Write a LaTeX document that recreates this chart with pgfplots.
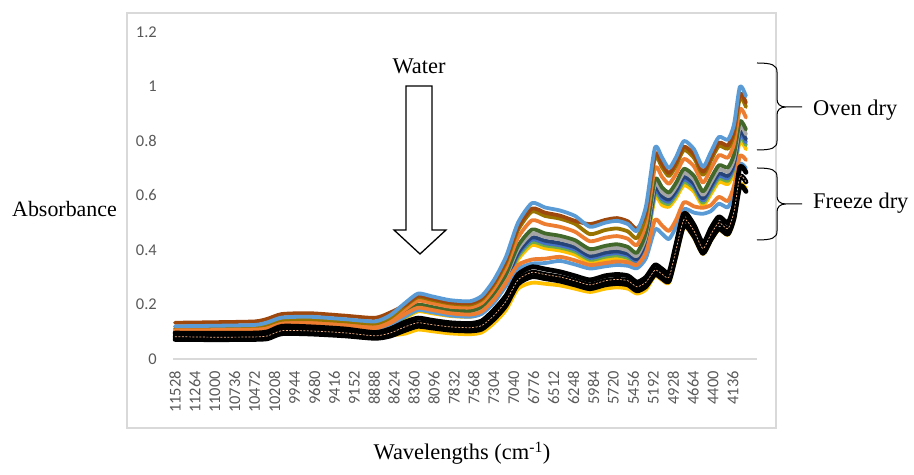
\documentclass[border=0pt]{standalone}
\usepackage{pgfplots}
\pgfplotsset{compat=1.18}
\usepackage{pgfplotstable}
\usepackage{fontspec}
\setmainfont{Liberation Serif}
\newfontfamily\tickfont{Carlito}

\definecolor{framegray}{HTML}{D9D9D9}
\definecolor{tickgray}{HTML}{595959}
\definecolor{cA}{HTML}{5B9BD5}
\definecolor{cB}{HTML}{9E480E}
\definecolor{cC}{HTML}{997300}
\definecolor{cD}{HTML}{ED7D31}
\definecolor{cE}{HTML}{43682B}
\definecolor{cF}{HTML}{A5A5A5}
\definecolor{cG}{HTML}{264478}
\definecolor{cH}{HTML}{4472C4}
\definecolor{cI}{HTML}{70AD47}
\definecolor{cJ}{HTML}{FFC000}
\definecolor{peach}{HTML}{F4B183}

% NIR spectra: A-J oven dried samples, FT/FL/K1-K3/Y freeze dried samples
\pgfplotstableread{
w     A     B     C     D     E     F     G     H     I     J     FT    FL    K1    K2    K3    Y
11528 0.120 0.133 0.113 0.107 0.100 0.097 0.094 0.092 0.090 0.088 0.105 0.100 0.095 0.082 0.072 0.075
10998 0.122 0.135 0.115 0.109 0.101 0.098 0.095 0.093 0.092 0.089 0.106 0.101 0.094 0.080 0.071 0.074
10468 0.125 0.138 0.118 0.111 0.104 0.101 0.098 0.096 0.094 0.091 0.108 0.103 0.095 0.081 0.072 0.075
10296 0.135 0.148 0.128 0.120 0.112 0.109 0.105 0.103 0.101 0.099 0.112 0.107 0.100 0.085 0.075 0.078
10111 0.152 0.165 0.144 0.135 0.126 0.122 0.119 0.116 0.114 0.111 0.128 0.122 0.120 0.104 0.093 0.095
9740  0.155 0.168 0.146 0.138 0.129 0.125 0.121 0.119 0.116 0.113 0.130 0.124 0.118 0.103 0.092 0.094
9276  0.146 0.159 0.138 0.130 0.121 0.118 0.114 0.112 0.110 0.107 0.122 0.117 0.110 0.096 0.085 0.088
8879  0.138 0.151 0.130 0.123 0.115 0.111 0.108 0.106 0.104 0.101 0.113 0.108 0.097 0.085 0.076 0.079
8680  0.160 0.170 0.151 0.142 0.133 0.129 0.125 0.122 0.120 0.117 0.132 0.126 0.110 0.095 0.084 0.086
8481  0.205 0.198 0.194 0.182 0.170 0.165 0.160 0.157 0.154 0.150 0.165 0.157 0.135 0.118 0.105 0.093
8309  0.240 0.232 0.227 0.214 0.199 0.193 0.187 0.184 0.180 0.175 0.188 0.180 0.150 0.133 0.120 0.108
8124  0.230 0.222 0.217 0.205 0.191 0.185 0.179 0.176 0.173 0.168 0.180 0.172 0.142 0.126 0.114 0.102
7885  0.216 0.208 0.204 0.192 0.179 0.174 0.168 0.165 0.162 0.158 0.168 0.160 0.133 0.118 0.106 0.094
7620  0.212 0.205 0.200 0.189 0.176 0.171 0.165 0.162 0.159 0.155 0.163 0.155 0.130 0.115 0.103 0.091
7461  0.232 0.224 0.219 0.206 0.193 0.187 0.181 0.177 0.174 0.169 0.175 0.166 0.140 0.123 0.110 0.098
7302  0.290 0.280 0.274 0.258 0.241 0.233 0.226 0.222 0.218 0.212 0.218 0.207 0.180 0.160 0.146 0.132
7143  0.375 0.362 0.354 0.334 0.311 0.302 0.293 0.287 0.281 0.274 0.280 0.268 0.232 0.212 0.196 0.180
6984  0.500 0.483 0.473 0.445 0.415 0.403 0.390 0.383 0.375 0.365 0.345 0.330 0.310 0.290 0.275 0.258
6799  0.572 0.552 0.541 0.509 0.475 0.460 0.446 0.438 0.429 0.418 0.365 0.350 0.338 0.318 0.302 0.280
6626  0.556 0.537 0.525 0.495 0.461 0.448 0.434 0.425 0.417 0.406 0.368 0.352 0.330 0.310 0.295 0.276
6428  0.545 0.526 0.515 0.485 0.452 0.439 0.425 0.417 0.409 0.398 0.375 0.360 0.320 0.301 0.286 0.270
6229  0.525 0.507 0.496 0.467 0.436 0.423 0.410 0.402 0.394 0.383 0.362 0.347 0.305 0.287 0.272 0.258
6030  0.485 0.495 0.458 0.432 0.403 0.390 0.378 0.371 0.364 0.354 0.345 0.332 0.290 0.272 0.258 0.246
5832  0.500 0.510 0.473 0.445 0.415 0.403 0.390 0.383 0.375 0.365 0.352 0.340 0.305 0.287 0.272 0.258
5673  0.507 0.517 0.479 0.451 0.421 0.408 0.395 0.388 0.380 0.370 0.358 0.345 0.310 0.292 0.277 0.263
5527  0.495 0.505 0.468 0.441 0.411 0.398 0.386 0.379 0.371 0.361 0.355 0.342 0.305 0.287 0.272 0.258
5408  0.470 0.478 0.444 0.418 0.390 0.378 0.367 0.360 0.353 0.343 0.345 0.333 0.282 0.265 0.250 0.240
5289  0.560 0.540 0.529 0.498 0.465 0.451 0.437 0.428 0.420 0.409 0.390 0.370 0.300 0.282 0.266 0.255
5170  0.775 0.751 0.738 0.701 0.660 0.642 0.626 0.615 0.605 0.592 0.510 0.475 0.345 0.326 0.310 0.305
5077  0.740 0.717 0.704 0.669 0.630 0.613 0.598 0.588 0.578 0.565 0.490 0.460 0.330 0.312 0.296 0.290
4984  0.700 0.682 0.671 0.643 0.611 0.598 0.585 0.577 0.569 0.559 0.470 0.440 0.318 0.300 0.285 0.280
4891  0.740 0.721 0.710 0.679 0.646 0.632 0.618 0.610 0.602 0.591 0.510 0.485 0.420 0.400 0.380 0.375
4785  0.800 0.779 0.767 0.734 0.698 0.683 0.668 0.659 0.650 0.638 0.575 0.550 0.535 0.512 0.490 0.485
4653  0.770 0.750 0.738 0.707 0.672 0.658 0.643 0.634 0.626 0.614 0.560 0.537 0.492 0.470 0.450 0.445
4534  0.705 0.687 0.676 0.647 0.615 0.602 0.589 0.581 0.573 0.563 0.555 0.533 0.425 0.405 0.388 0.385
4428  0.760 0.740 0.729 0.698 0.663 0.649 0.635 0.626 0.618 0.606 0.565 0.543 0.480 0.458 0.438 0.435
4322  0.815 0.794 0.782 0.748 0.711 0.696 0.681 0.672 0.663 0.650 0.595 0.570 0.522 0.500 0.478 0.475
4203  0.805 0.784 0.772 0.739 0.703 0.687 0.672 0.663 0.654 0.642 0.580 0.557 0.500 0.478 0.458 0.455
4123  0.860 0.838 0.825 0.789 0.751 0.734 0.718 0.709 0.699 0.686 0.635 0.610 0.565 0.540 0.515 0.512
4044  1.000 0.974 0.959 0.918 0.873 0.854 0.835 0.824 0.813 0.798 0.745 0.715 0.705 0.670 0.635 0.640
3964  0.965 0.940 0.925 0.886 0.842 0.824 0.806 0.795 0.785 0.770 0.730 0.700 0.685 0.650 0.615 0.625
}\spectra

\begin{document}
\begin{tikzpicture}
\useasboundingbox (0,0) rectangle (914bp,475bp);
% chart frame
\draw[draw=framegray, line width=1.2bp] (127bp,47bp) rectangle (776bp,462bp);
\begin{axis}[
  at={(173bp,116bp)}, anchor=south west,
  scale only axis, width=584bp, height=327bp,
  xmin=3818, xmax=11554, x dir=reverse,
  ymin=0, ymax=1.2,
  axis x line*=bottom, axis y line*=left,
  x axis line style={draw=framegray, line width=1.3bp},
  y axis line style={draw=none},
  major tick length=0pt,
  scaled x ticks=false,
  xtick={11528,11264,11000,10736,10472,10208,9944,9680,9416,9152,8888,8624,8360,8096,7832,7568,7304,7040,6776,6512,6248,5984,5720,5456,5192,4928,4664,4400,4136},
  ytick={0,0.2,0.4,0.6,0.8,1,1.2},
  xticklabel={\pgfmathprintnumber[fixed, precision=0, 1000 sep={}, assume math mode=true]{\tick}},
  yticklabel={\pgfmathprintnumber[assume math mode=true]{\tick}},
  xticklabel style={rotate=90, anchor=east, inner sep=0pt,
    font=\tickfont\fontsize{16.5}{19}\selectfont, text=tickgray},
  yticklabel style={anchor=east, inner sep=0pt,
    font=\tickfont\fontsize{16.5}{19}\selectfont, text=tickgray},
  xticklabel shift=12bp,
  yticklabel shift=16bp,
  no markers,
  spec/.style={line width=3.8bp, smooth, tension=0.4, line join=round, line cap=round},
  blk/.style={spec, black, line width=4.8bp},
]
% oven dried
\addplot[spec, cJ] table[x=w, y=J] \spectra;
\addplot[spec, cI] table[x=w, y=I] \spectra;
\addplot[spec, cH] table[x=w, y=H] \spectra;
\addplot[spec, cG] table[x=w, y=G] \spectra;
\addplot[spec, cF] table[x=w, y=F] \spectra;
\addplot[spec, cE] table[x=w, y=E] \spectra;
\addplot[spec, cD] table[x=w, y=D] \spectra;
\addplot[spec, cC] table[x=w, y=C] \spectra;
\addplot[spec, cB] table[x=w, y=B] \spectra;
\addplot[spec, cA] table[x=w, y=A] \spectra;
% freeze dried
\addplot[spec, cJ] table[x=w, y=Y] \spectra;
\addplot[spec, cA] table[x=w, y=FL] \spectra;
\addplot[spec, cD] table[x=w, y=FT] \spectra;
\addplot[blk] table[x=w, y=K3] \spectra;
\addplot[blk] table[x=w, y=K2] \spectra;
\addplot[blk] table[x=w, y=K1] \spectra;
\addplot[smooth, tension=0.4, peach, line width=0.7bp, dash pattern=on 2bp off 1.5bp] table[x=w, y=K2] \spectra;
\end{axis}

\begin{scope}[x=1bp, y=-1bp, yshift=475bp]
  % water band marker
  \draw[line width=1.3bp, fill=white, line join=miter]
    (406,86) -- (432,86) -- (432,230) -- (446,230) -- (420,254) -- (394,230) -- (406,230) -- cycle;
  \node[anchor=base, inner sep=0pt, font=\fontsize{22.5}{27}\selectfont] at (419,74) {Water};
  % group braces
  \draw[line width=1bp]
    (757,63) .. controls (772,63) and (777,65) .. (777,72) -- (777,99)
    .. controls (777,104) and (780,107) .. (786,107) -- (802,107)
    (786,107) .. controls (780,107) and (777,110) .. (777,115) -- (777,141)
    .. controls (777,148) and (772,150) .. (757,150);
  \draw[line width=1bp]
    (757,168) .. controls (772,168) and (777,170) .. (777,177) -- (777,196)
    .. controls (777,201) and (780,204) .. (786,204) -- (802,204)
    (786,204) .. controls (780,204) and (777,207) .. (777,212) -- (777,231)
    .. controls (777,238) and (772,240) .. (757,240);
  \node[anchor=base west, inner sep=0pt, font=\fontsize{22.5}{27}\selectfont] at (813,116) {Oven dry};
  \node[anchor=base west, inner sep=0pt, font=\fontsize{22.5}{27}\selectfont] at (813,209) {Freeze dry};
  % axis titles
  \node[anchor=base west, inner sep=0pt, font=\fontsize{22}{26}\selectfont] at (12,217) {Absorbance};
  \node[anchor=base, inner sep=0pt, font=\fontsize{22.5}{27}\selectfont] at (462,460) {Wavelengths (cm\textsuperscript{-1})};
\end{scope}
\end{tikzpicture}
\end{document}
